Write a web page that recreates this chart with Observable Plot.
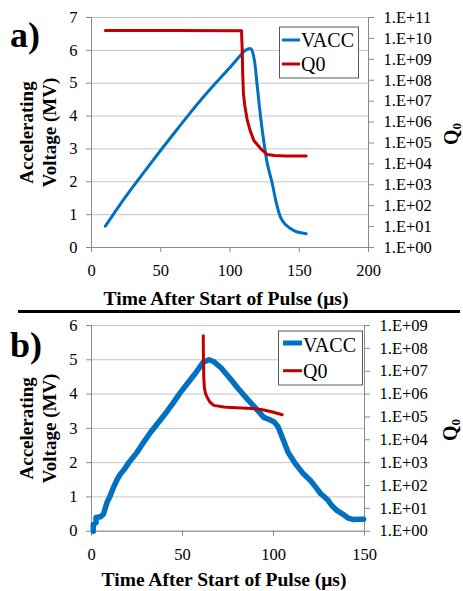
<!DOCTYPE html>
<html><head><meta charset="utf-8">
<script src="https://cdn.jsdelivr.net/npm/d3@7"></script>
<script src="https://cdn.jsdelivr.net/npm/@observablehq/plot@0.6"></script>
<style>
body{margin:0;background:#fff;}
#wrap{position:relative;width:463px;height:591px;overflow:hidden;background:#fff;}
#wrap svg{position:absolute;left:0;}
#wrap svg, #wrap svg text, #wrap svg tspan{font-family:"Liberation Serif","Times New Roman",serif !important;}
</style></head><body><div id="wrap"></div>
<script>
// ---------- Data ----------
// Panel a
const xTicksA = [0, 50, 100, 150, 200];
const vTicksA = [0, 1, 2, 3, 4, 5, 6, 7];
const qTicksA = [1e0, 1e1, 1e2, 1e3, 1e4, 1e5, 1e6, 1e7, 1e8, 1e9, 1e10, 1e11];
const timeA_V = [10, 20, 30, 40, 50, 60, 70, 80, 90, 100, 107, 111, 115, 117.2, 119.7, 122.1, 124.5, 126.9, 130.5, 133.5, 136.5, 140, 143.7, 148, 152, 155];
const vaccA   = [0.65, 1.27, 1.85, 2.41, 2.96, 3.5, 4.03, 4.54, 5.02, 5.48, 5.82, 6.0, 6.05, 5.79, 4.9, 3.97, 3.2, 2.56, 1.95, 1.35, 0.92, 0.7, 0.58, 0.48, 0.44, 0.42];
const timeA_Q = [10, 60, 108.3, 108.8, 109.2, 109.7, 110.7, 112.5, 114.5, 117.2, 122.1, 126.9, 132, 140, 155];
const q0A     = [2.4e10, 2.4e10, 2.35e10, 3e9, 2e8, 2.3e7, 6e6, 1.2e6, 4e5, 1.3e5, 5.4e4, 2.8e4, 2.5e4, 2.4e4, 2.4e4];
// Panel b
const xTicksB = [0, 50, 100, 150];
const vTicksB = [0, 1, 2, 3, 4, 5, 6];
const qTicksB = [1e0, 1e1, 1e2, 1e3, 1e4, 1e5, 1e6, 1e7, 1e8, 1e9];
const timeB_V = [1, 1, 2.5, 2.5, 5, 6.6, 8, 8.6, 10, 12.1, 14, 15.9, 18, 20.5, 25, 28.7, 32.4, 36, 41.6, 45, 48.9, 52.6, 57, 61.4, 64.5, 67, 70.9, 76.4, 80, 85.5, 90, 94.7, 98, 100.5, 102.5, 104.8, 108, 112, 116, 120.3, 123, 125.8, 128, 130, 132, 135, 138, 141, 144, 147, 149.5];
const vaccB   = [0, 0.2, 0.25, 0.4, 0.42, 0.5, 0.75, 0.85, 1.0, 1.28, 1.5, 1.67, 1.8, 2.0, 2.3, 2.6, 2.88, 3.12, 3.5, 3.75, 4.05, 4.3, 4.6, 4.93, 5.0, 4.95, 4.78, 4.44, 4.2, 3.86, 3.6, 3.32, 3.25, 3.18, 3.05, 2.74, 2.3, 1.97, 1.7, 1.48, 1.3, 1.1, 1.0, 0.9, 0.75, 0.6, 0.5, 0.38, 0.34, 0.35, 0.35];
const timeB_Q = [61.4, 61.5, 61.7, 62, 62.6, 63.6, 65, 67.2, 72.7, 76.4, 85.5, 91, 94.7, 100, 104.8];
const q0B     = [3.6e8, 5e7, 5e6, 2e6, 1.1e6, 7e5, 4.5e5, 3.2e5, 2.7e5, 2.6e5, 2.4e5, 2.25e5, 2e5, 1.6e5, 1.25e5];

const seriesNames = ["VACC", "Q0"];
const yTitle = "Accelerating\nVoltage (MV)";
const xTitle = "Time After Start of Pulse (μs)";

// ---------- Drawing ----------
const BLUE = "#0070C0", RED = "#C00000", AX = "#8a8a8a", GRID = "#c4c4c4";
const FONT = "Liberation Serif";
const wrap = document.getElementById("wrap");
const fmtQ = d => "1.E+" + String(Math.round(Math.log10(d))).padStart(2, "0");

function panel(cfg) {
  const vData = cfg.tV.map((t, i) => ({t, v: cfg.v[i]}));
  const qData = cfg.tQ.map((t, i) => ({t, q: cfg.q[i]}));
  const common = {
    width: 463, height: cfg.h, marginTop: cfg.mt, marginBottom: cfg.mb,
    marginLeft: 91, marginRight: cfg.mr,
    style: {fontFamily: FONT, fontSize: "16.5px", color: "black", background: "transparent", overflow: "visible"}
  };
  const lin = Plot.plot({
    ...common,
    x: {domain: cfg.xd, label: null},
    y: {domain: cfg.vd, label: null},
    marks: [
      Plot.gridY(cfg.vT, {stroke: GRID, strokeOpacity: 1}),
      Plot.ruleX([cfg.xd[0], cfg.xd[1]], {stroke: AX}),
      Plot.ruleY([cfg.vd[0]], {stroke: AX}),
      Plot.axisY(cfg.vT, {tickSize: 5, tickPadding: 9, stroke: AX, label: null, fontSize: 16.5, fontFamily: FONT}),
      Plot.axisX(cfg.xT, {tickSize: 5, tickPadding: 12, stroke: AX, label: null, fontSize: 16.5, fontFamily: FONT}),
      Plot.line(vData, {x: "t", y: "v", stroke: BLUE, strokeWidth: cfg.vw, curve: cfg.vc}),
      Plot.text([yTitle], {frameAnchor: "left", dx: -54.5, rotate: -90, textAnchor: "middle", lineAnchor: "middle",
        fontWeight: "bold", fontSize: 19, lineHeight: 1.21, fontFamily: FONT}),
      Plot.text([xTitle], {frameAnchor: "bottom", dx: -4, dy: cfg.tdy, textAnchor: "middle", lineAnchor: "middle",
        fontWeight: "bold", fontSize: 19.5, fontFamily: FONT})
    ]
  });
  const lg = Plot.plot({
    ...common,
    x: {domain: cfg.xd, label: null, axis: null},
    y: {type: "log", domain: cfg.qd, label: null},
    marks: [
      Plot.axisY(cfg.qT, {anchor: "right", tickSize: 5, tickPadding: 10, stroke: AX, tickFormat: fmtQ, label: null, fontSize: 16.5, fontFamily: FONT}),
      Plot.line(qData, {x: "t", y: "q", stroke: RED, strokeWidth: 3})
    ]
  });
  for (const s of [lin, lg]) { s.style.top = cfg.top + "px"; wrap.appendChild(s); }
}

panel({top: 0, h: 305, mt: 17, mb: 58, mr: 95, xd: [0, 200], xT: xTicksA, vd: [0, 7], vT: vTicksA,
  qd: [1, 1e11], qT: qTicksA, tV: timeA_V, v: vaccA, tQ: timeA_Q, q: q0A, vw: 3, vc: "catmull-rom", tdy: 51});
panel({top: 305, h: 286, mt: 20, mb: 60.3, mr: 99, xd: [0, 150], xT: xTicksB, vd: [0, 6], vT: vTicksB,
  qd: [1, 1e9], qT: qTicksB, tV: timeB_V, v: vaccB, tQ: timeB_Q, q: q0B, vw: 5.5, vc: "linear", tdy: 48.5});

// ---------- Annotations (panel letters, separator, Q0 titles, legends) ----------
const ns = "http://www.w3.org/2000/svg";
const ov = document.createElementNS(ns, "svg");
ov.setAttribute("width", 463); ov.setAttribute("height", 591);
ov.style.top = "0px";
ov.innerHTML = `
<text x="10" y="47" font-size="36" font-weight="bold">a)</text>
<text x="10" y="356.5" font-size="36" font-weight="bold">b)</text>
<line x1="18" x2="460" y1="311.5" y2="311.5" stroke="black" stroke-width="3"/>
<text transform="translate(458,134) rotate(-90)" text-anchor="middle" font-size="20" font-weight="bold">Q<tspan font-size="13" dy="3">0</tspan></text>
<text transform="translate(457,430) rotate(-90)" text-anchor="middle" font-size="20" font-weight="bold">Q<tspan font-size="13" dy="3">0</tspan></text>
<rect x="279.5" y="27" width="79" height="51" fill="white" stroke="#595959" stroke-width="1"/>
<line x1="282" x2="300" y1="40" y2="40" stroke="${BLUE}" stroke-width="3"/>
<text x="301" y="46.5" font-size="20">${seriesNames[0]}</text>
<line x1="282" x2="300" y1="64" y2="64" stroke="${RED}" stroke-width="3"/>
<text x="301" y="71" font-size="20">${seriesNames[1]}</text>
<rect x="278.5" y="331" width="84" height="54" fill="white" stroke="#595959" stroke-width="1"/>
<line x1="283" x2="302" y1="343" y2="343" stroke="${BLUE}" stroke-width="5"/>
<text x="303" y="351.5" font-size="20">${seriesNames[0]}</text>
<line x1="283" x2="302" y1="370.7" y2="370.7" stroke="${RED}" stroke-width="3"/>
<text x="303" y="377.5" font-size="20">${seriesNames[1]}</text>
`;
wrap.appendChild(ov);
</script></body></html>
